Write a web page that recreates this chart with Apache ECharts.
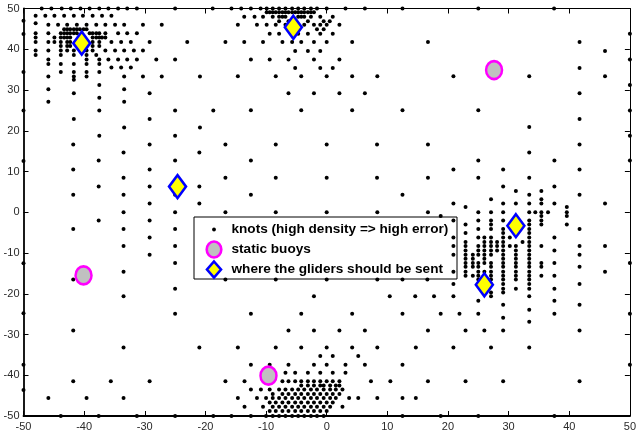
<!DOCTYPE html>
<html>
<head>
<meta charset="utf-8">
<script src="https://cdn.jsdelivr.net/npm/echarts@6/dist/echarts.min.js"></script>
<style>
html,body{margin:0;padding:0;background:#fff;}
#chart{width:639px;height:436px;}
</style>
</head>
<body>
<div id="chart"></div>
<script>
// Knots, grouped by row: [y, [x values]]
const knotRows = [
  // boundary rows
  [50, [-47.0,-45.4,-43.7,-42.2,-40.6,-39.1,-37.5,-36.0,-34.4,-32.9,-31.3,-25.0,-18.8,-15.7,-14.1,-12.5,-10.9,-9.9,-8.9,-7.85,-6.8,-5.7,-4.7,-3.7,-2.6,-1.6,0.0,3.1,6.3,12.5,25.0,37.5]],
  [49.1, [-9.9,-9.4,-8.9,-8.4,-7.85,-7.3,-6.8,-6.3,-5.7,-5.2,-4.7,-4.2,-3.7,-3.1,-2.6,-2.1]],
  [-50, [-43.85,-37.6,-31.3,-25.0,-18.7,-15.7,-12.5,-10.0,-8.9,-7.85,-6.8,-5.7,-4.7,-3.7,-2.6,-1.6,-0.5,12.5,18.8,25.0,37.55]],
  // top-left cluster
  [48.2, [-48.0,-46.4,-44.9,-43.3,-41.7,-40.2,-38.6,-37.05,-35.5]],
  [46.4, [-48.0]],
  [46.0, [-45.9,-44.3,-42.8,-41.2,-39.6,-38.0,-36.5,-34.9,-33.4,-30.3,-27.2]],
  [44.9, [-43.3,-42.8,-42.3,-41.7,-41.2,-40.7,-40.1,-39.6]],
  [43.9, [-48.0,-45.9,-43.85,-43.3,-42.8,-42.3,-41.7,-41.2,-39.1,-38.6,-38.0,-37.5,-36.5,-34.4,-32.9,-31.3]],
  [42.9, [-48.0,-44.9,-43.85,-43.3,-42.8,-42.3,-38.6,-38.0,-37.5,-37.05,-36.5]],
  [41.8, [-48.0,-45.9,-44.9,-43.85,-42.8,-42.3,-38.6,-37.5,-35.5,-33.9,-32.3,-29.2,-23.0]],
  [40.8, [-43.85,-42.8,-42.3,-39.6,-38.6,-37.5]],
  [39.7, [-48.0,-45.9,-43.85,-42.8,-41.7,-39.6,-38.6,-36.5,-34.9,-33.4,-31.8,-30.3]],
  [38.6, [-48.0,-43.85,-41.7,-39.6,-38.0]],
  [37.5, [-45.9,-39.6,-37.5,-36.0,-34.4,-32.9,-31.3,-28.1,-25.0]],
  [36.4, [-45.9,-43.85,-41.7,-39.6,-37.5]],
  [35.5, [-35.5,-33.9,-32.3]],
  [34.4, [-43.85,-41.7,-39.6,-37.5]],
  [33.3, [-45.9,-41.7,-39.6,-33.4,-30.3,-27.2,-20.9]],
  [32.5, [-41.7]],
  [31.25, [-37.5]],
  [30.2, [-45.9,-33.4]],
  [29.2, [-41.7,-29.2]],
  [28.1, [-37.5]],
  [27.1, [-45.9,-33.4]],
  [25.0, [-37.5,-25.0,-18.7]],
  [22.9, [-41.7,-29.2]],
  [20.8, [-33.4,-20.9]],
  [18.75, [-37.5,-25.0]],
  // top-centre cluster and upper right
  [48.0, [-13.6,-11.9,-10.5,-8.9,-7.85,-7.3,-6.8,-4.7,-4.2,-3.7,-2.6,-1.06,1.0]],
  [46.9, [-7.85,-6.3,-3.1,-0.5,0.5]],
  [46.0, [-14.65,-11.5,-9.9,-8.4,-6.8,-3.7,-2.1,-1.06,0.0,2.1]],
  [44.9, [-1.6,-0.5]],
  [43.8, [-9.4,-7.85,-4.7,-3.1,-1.06,1.0]],
  [41.75, [-16.7,-13.6,-10.5,-7.3,-5.7,-4.2,-2.1,0.0,4.2,16.7,41.7]],
  [39.6, [-5.2,-3.1,-1.06,45.9]],
  [37.5, [-12.5,-9.4,-6.3,-2.1,2.1]],
  [35.4, [-5.2,-1.06,1.0,41.7]],
  [33.4, [-14.65,-8.4,-4.2,0.0,4.2,8.35,20.9,33.4,45.9]],
  [29.2, [-6.3,-2.1,2.1,6.3,41.7]],
  [25.05, [-12.5,-4.2,4.2,12.5,25.0]],
  [22.9, [41.7]],
  [20.9, [33.4]],
  // middle band
  [16.6, [-41.8,-29.2,-16.7,-8.4,0.0,8.3,16.7,41.7]],
  [14.65, [-33.5,-21.0,33.4]],
  [12.7, [-37.6,-25.0,-12.5,25.0,37.55]],
  [10.5, [-41.8,-29.2,20.9,29.1,41.7]],
  [8.45, [-33.5,-16.7,-8.4,0.0,8.3,16.7,25.0,33.4]],
  [6.3, [-37.6,-29.2,-21.0,29.1,37.55]],
  [5.2, [31.2,35.4]],
  [4.3, [-41.8,-33.5,-25.0,-12.5,12.5,33.4,41.7]],
  [3.2, [27.1,35.4]],
  [2.15, [-29.2,-21.0,20.9,29.1,31.2,33.4,35.4,37.55,45.9]],
  [1.3, [22.9,39.6]],
  [0.0, [-33.5,-25.0,-16.7,-8.4,0.0,8.35,16.7,25.0,27.1,29.1,33.4,34.4,35.4,36.5,39.6]],
  [-0.9, [18.8,35.4,39.6]],
  [-2.0, [-37.6,-29.2,20.9,25.0,27.1,29.1,33.4,35.4]],
  [-3.0, [22.9,27.1,33.4,35.4,39.6]],
  [-4.1, [-41.8,-33.5,-25.0,25.0,27.1,29.1,33.4,41.7]],
  [-5.1, [22.9,29.1,33.4]],
  [-6.2, [-29.2,20.9,25.0,26.0,27.1,29.1,30.2,33.4,37.55]],
  [-7.3, [22.9,26.0,27.1,28.1,29.1,32.3,33.4]],
  [-8.3, [-33.5,-25.0,20.9,22.9,25.0,26.0,27.1,28.1,29.1,30.2,31.2,33.4,35.4,41.7,45.9]],
  [-9.4, [22.9,25.0,26.0,27.1,28.1,29.1,31.2,33.4,37.55]],
  [-10.4, [-29.2,20.9,22.9,24.1,25.0,26.0,27.1,29.1,31.2,33.4,41.7]],
  [-11.4, [22.9,24.1,26.0,29.1,31.2,33.4]],
  [-12.45, [-25.0,22.9,24.1,25.0,26.0,27.1,29.1,31.2,33.4,35.4,37.55]],
  [-13.4, [22.9,24.1,25.0,27.1,29.1,31.2,33.4,35.4,41.7]],
  [-14.6, [-33.5,20.9,22.9,25.0,26.0,27.1,29.1,31.2,33.4,45.9]],
  [-15.6, [22.9,24.1,25.0,27.1,29.1,31.2,33.4,35.4,37.55]],
  [-16.5, [-41.8,-16.7,-8.4,0.0,8.35,12.5,16.6,25.0,27.1,29.1,31.2,33.4]],
  [-17.6, [20.9,27.1,29.1,33.4,41.7]],
  [-18.75, [-25.0,29.1,31.2,33.4,37.55]],
  [-19.7, [27.1,29.1]],
  [-20.6, [-33.5,-2.1,10.4,14.6,17.7,20.9,27.1,33.4]],
  [-21.7, [25.0,37.55]],
  [-22.7, [29.1,41.7]],
  [-23.9, [33.4]],
  // lower half
  [-24.9, [-25.0,-12.5,-4.2,4.2,12.5,18.8,21.9,25.0,37.55]],
  [-25.9, [29.1]],
  [-26.9, [33.4]],
  [-29.0, [-41.8,-6.3,-2.1,2.1,6.3,16.7,22.9,26.0,29.1,41.7]],
  [-33.2, [-33.5,-21.0,-14.65,-8.4,-4.2,0.0,4.2,8.35,14.7,20.9,27.1,33.4]],
  [-35.3, [-1.06,1.0,5.2]],
  [-37.4, [-12.5,-9.4,-6.3,-2.1,0.0,3.1,6.3,12.5]],
  [-39.4, [-6.8,-5.2,-3.1,-1.06,1.0,3.1]],
  [-41.5, [-41.8,-35.6,-29.2,-16.7,-13.55,-7.3,-6.3,-5.2,-4.2,-3.1,-2.1,-1.06,0.0,1.0,2.1,7.3,10.5,16.7,22.9,29.1,41.7]],
  [-42.5, [-4.2,-3.1,-2.1,-1.06,-0.5,0.57,1.5,2.1]],
  [-43.5, [-12.5,-10.85,-9.4,-7.85,-6.8,-5.7,-4.7,-3.7,-2.6,-1.6,-0.5,0.57,1.5,2.6]],
  [-44.6, [-8.9,-7.3,-6.3,-5.2,-4.2,-3.1,-2.1,-1.06,0.0,1.0,2.1]],
  [-45.6, [-45.9,-39.6,-33.5,-14.65,-11.5,-10.0,-8.9,-7.85,-6.8,-5.7,-4.7,-3.7,-2.6,-1.6,-0.5,0.57,1.5,3.7,5.2,8.35,12.5,14.7]],
  [-46.7, [-9.4,-8.4,-7.3,-6.3,-5.2,-4.2,-3.1,-2.1,-1.06,0.0,1.0]],
  [-47.7, [-13.55,-10.5,-8.9,-7.85,-6.8,-5.7,-4.7,-3.7,-2.6,-1.6,-0.5,0.57,2.6]],
  [-48.8, [-9.4,-8.4,-7.3,-6.3,-5.2,-4.2,-3.1,-2.1,-1.06,0.0]]
];
// knots sitting on the left / right frame: [x, [y values]]
const knotCols = [
  [-50, [47.0,43.75,34.4,25.0,12.6,-12.5,-24.8,-37.4,-43.6]],
  [50, [43.8,37.5,31.25,25.0,18.75,12.7,-12.45,-24.9,-37.4]]
];
const buoys = [[27.6, 34.9], [-40.1, -15.5], [-9.6, -40.1]];
const gliders = [[-40.4, 41.5], [-5.5, 45.4], [-24.6, 6.3], [31.2, -3.3], [26.0, -17.8]];
const xTicks = {min: -50, max: 50, step: 10};
const yTicks = {min: -50, max: 50, step: 10};
const legendLabels = ['knots (high density => high error)', 'static buoys', 'where the gliders should be sent'];

const knots = [];
knotRows.forEach(([y, xs]) => xs.forEach(x => knots.push([x, y])));
knotCols.forEach(([x, ys]) => ys.forEach(y => knots.push([x, y])));

const chart = echarts.init(document.getElementById('chart'), null, {renderer: 'canvas'});
const font = 'Liberation Sans, Arial, Helvetica, sans-serif';
function axisX(pos, labels) {
  return {
    type: 'value', position: pos, min: xTicks.min, max: xTicks.max, interval: xTicks.step,
    axisLine: {show: true, onZero: false, lineStyle: {color: '#000', width: labels ? 1.8 : 1}},
    axisTick: {show: true, inside: true, length: 5, lineStyle: {color: '#000', width: 1}},
    axisLabel: {show: labels, color: '#2a2a2a', fontSize: 11, fontFamily: font, margin: 5},
    splitLine: {show: false}
  };
}
function axisY(pos, labels) {
  return {
    type: 'value', position: pos, min: yTicks.min, max: yTicks.max, interval: yTicks.step,
    axisLine: {show: true, onZero: false, lineStyle: {color: '#000', width: labels ? 1.8 : 1}},
    axisTick: {show: true, inside: true, length: 5, lineStyle: {color: '#000', width: 1}},
    axisLabel: {show: labels, color: '#2a2a2a', fontSize: 11, fontFamily: font, margin: 4},
    splitLine: {show: false}
  };
}
const LX = 193.5, LY = 216.5, LW = 263, LH = 62;
chart.setOption({
  animation: false,
  backgroundColor: '#fff',
  grid: {left: 23.5, right: 2, top: 8.5, bottom: 20, containLabel: false},
  xAxis: [axisX('bottom', true), axisX('top', false)],
  yAxis: [axisY('left', true), axisY('right', false)],
  series: [
    {name: legendLabels[0], type: 'scatter', data: knots, symbol: 'circle', symbolSize: 4,
     itemStyle: {color: '#000', opacity: 1}, clip: false, z: 2, silent: true},
    {name: legendLabels[1], type: 'scatter', data: buoys, symbol: 'circle', symbolSize: [16, 18],
     itemStyle: {color: '#c0c0c0', borderColor: '#ff00ff', borderWidth: 2.6, opacity: 1}, clip: false, z: 3},
    {name: legendLabels[2], type: 'scatter', data: gliders, symbol: 'diamond', symbolSize: [17, 23],
     itemStyle: {color: '#ffff00', borderColor: '#0000ff', borderWidth: 2.6, opacity: 1}, clip: false, z: 4}
  ],
  graphic: [{
    type: 'group', left: LX, top: LY, z: 100,
    children: [
      {type: 'rect', shape: {x: 0, y: 0, width: LW, height: LH}, style: {fill: '#fff', stroke: '#000', lineWidth: 1}},
      {type: 'circle', shape: {cx: 20, cy: 12.5, r: 1.9}, style: {fill: '#000'}},
      {type: 'ellipse', shape: {cx: 20, cy: 32.5, rx: 7.3, ry: 8}, style: {fill: '#c0c0c0', stroke: '#ff00ff', lineWidth: 2.6}},
      {type: 'polygon', shape: {points: [[20, 44.5], [27, 52.5], [20, 60.5], [13, 52.5]]}, style: {fill: '#ffff00', stroke: '#0000ff', lineWidth: 2.6}},
      {type: 'text', x: 37.5, y: 12.5, style: {text: legendLabels[0], fill: '#000', font: 'bold 13.6px ' + font, textVerticalAlign: 'middle'}},
      {type: 'text', x: 37.5, y: 32.5, style: {text: legendLabels[1], fill: '#000', font: 'bold 13.6px ' + font, textVerticalAlign: 'middle'}},
      {type: 'text', x: 37.5, y: 52.5, style: {text: legendLabels[2], fill: '#000', font: 'bold 13.6px ' + font, textVerticalAlign: 'middle'}}
    ]
  }]
});
</script>
</body>
</html>
